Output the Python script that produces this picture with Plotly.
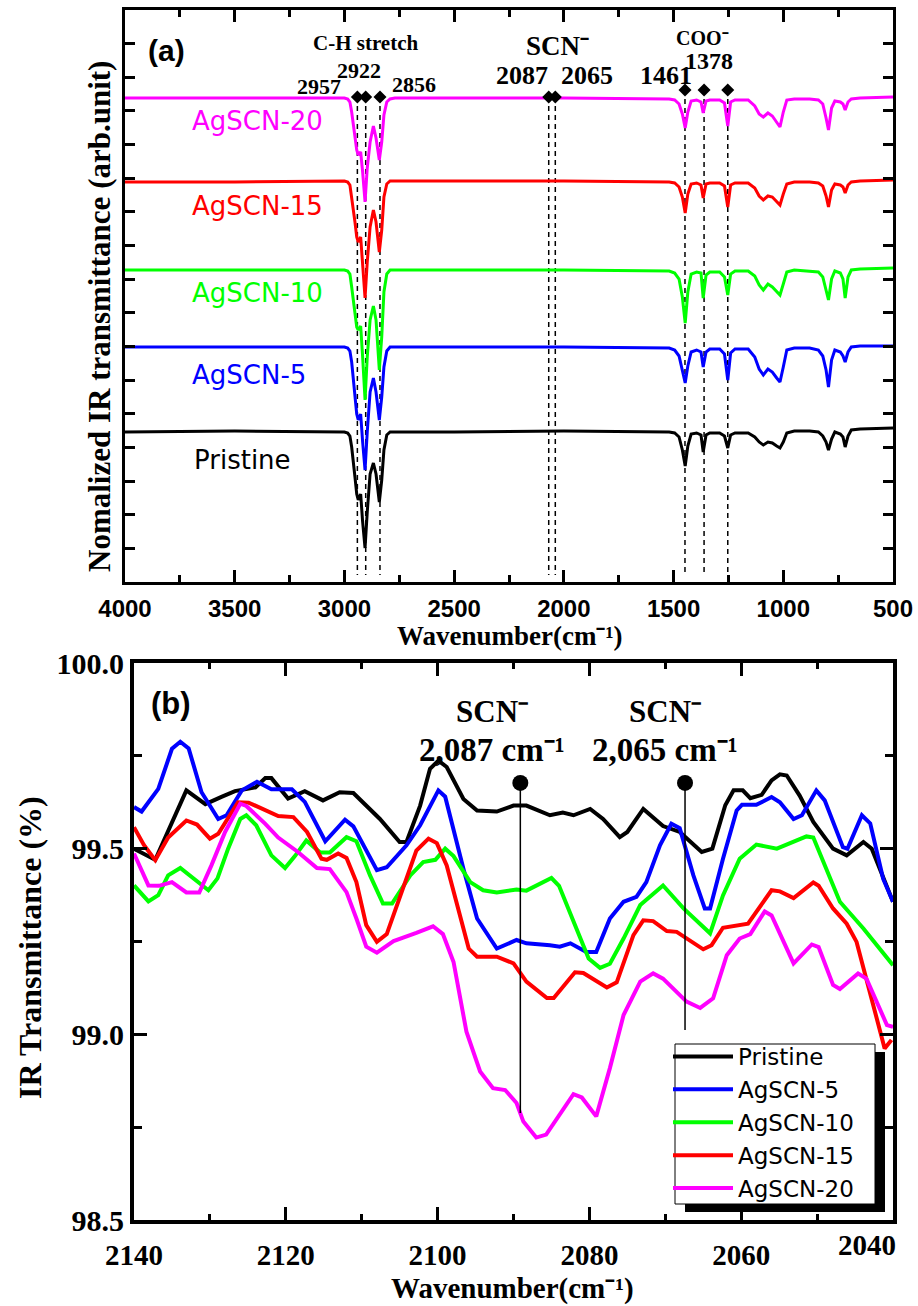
import plotly.graph_objects as go

SERIES = ["Pristine", "AgSCN-5", "AgSCN-10", "AgSCN-15", "AgSCN-20"]
COLORS = ["#000000", "#0000FF", "#00FF00", "#FF0000", "#FF00FF"]

# ---------------- panel (a): full spectra (arb. units, stacked) ----------------
WN_A = [4000, 3500, 3000, 2985, 2975, 2967, 2952, 2944, 2937, 2926, 2917, 2906, 2896,
        2883, 2868, 2856, 2841, 2830, 2820, 2807, 2792, 2770, 2500, 2000, 1520, 1495,
        1475, 1460, 1447, 1435, 1420, 1395, 1375, 1365, 1352, 1335, 1290, 1268, 1253,
        1240, 1220, 1160, 1130, 1110, 1091, 1070, 1050, 1030, 1015, 1000, 984, 950, 880,
        840, 820, 805, 794, 780, 765, 740, 728, 718, 705, 690, 650, 500]

A_PRISTINE = [150, 151, 150, 149, 146, 135, 105, 88, 82, 88, 60, 34, 70, 108, 119, 108, 80,
              102, 132, 147, 150, 150, 150, 151, 150, 149, 145, 132, 116, 136, 148, 149,
              147, 130, 147, 149, 149, 146, 134, 147, 149, 149, 145, 140, 137, 140, 139,
              136, 134, 140, 149, 151, 151, 150, 146, 140, 132, 143, 150, 148, 145, 135,
              146, 152, 153, 154]
A_AGSCN5 = [235, 235, 235, 234, 231, 220, 185, 168, 162, 168, 140, 112, 150, 190, 204, 190,
            162, 185, 215, 231, 235, 235, 235, 235, 234, 232, 226, 212, 199, 216, 230, 232,
            230, 215, 230, 233, 233, 228, 202, 229, 233, 233, 225, 213, 207, 213, 210, 204,
            200, 215, 232, 234, 234, 232, 226, 212, 195, 222, 232, 230, 226, 220, 230, 235,
            236, 236]
A_AGSCN10 = [312, 312, 312, 311, 308, 295, 268, 255, 252, 256, 225, 182, 225, 262, 276, 262,
             212, 245, 290, 308, 312, 312, 312, 312, 311, 309, 303, 285, 259, 290, 308, 310,
             309, 284, 307, 310, 310, 305, 287, 308, 311, 311, 306, 297, 292, 298, 295, 290,
             287, 298, 310, 312, 311, 310, 305, 292, 282, 303, 311, 309, 303, 284, 305, 312,
             313, 314]
A_AGSCN15 = [400, 400, 401, 400, 397, 385, 360, 345, 340, 345, 320, 284, 320, 355, 372, 360,
             330, 352, 385, 398, 401, 401, 401, 401, 400, 399, 395, 385, 369, 388, 398, 399,
             397, 384, 398, 399, 399, 396, 375, 397, 399, 399, 394, 386, 382, 386, 385, 380,
             377, 388, 398, 400, 400, 399, 396, 386, 375, 392, 398, 397, 395, 389, 397, 400,
             401, 402]
A_AGSCN20 = [484, 484, 484, 483, 480, 470, 447, 432, 427, 430, 410, 380, 414, 440, 456, 444,
             422, 440, 467, 480, 483, 484, 484, 484, 483, 482, 478, 468, 454, 470, 481, 482,
             480, 469, 481, 482, 482, 479, 456, 480, 482, 482, 476, 468, 465, 469, 466, 460,
             455, 470, 482, 483, 483, 482, 478, 464, 452, 474, 481, 480, 478, 472, 480, 483,
             484, 485]
A_SERIES = [A_PRISTINE, A_AGSCN5, A_AGSCN10, A_AGSCN15, A_AGSCN20]

# series labels in panel (a): (left wavenumber, level)
A_LABEL_WN = [3695, 3704, 3704, 3704, 3704]
A_LABEL_Y = [122, 207, 289, 376, 461]

# marker lines in panel (a)
CH_LINES = [2941, 2903, 2838]
SCN_LINES_A = [2069, 2039]
COO_LINES = [1448, 1361, 1253]
CH_TOP, SCN_TOP_A, COO_TOP, LINE_BOTTOM_A = 485, 485, 492, 7

A_PEAK_TEXT = [("2957", 3116, 496, 22), ("2922", 2934, 512, 22), ("2856", 2683, 498, 22),
               ("2087", 2193, 507, 26), ("2065", 1895, 507, 26), ("1461", 1535, 507, 26),
               ("1378", 1339, 521, 24)]

# ---------------- panel (b): SCN region ----------------
B_PRISTINE_WN = [2140.0, 2137.2, 2133.1, 2130.6, 2128.4, 2126.7, 2124.0, 2122.7, 2121.9, 2119.7,
                 2117.5, 2115.1, 2112.9, 2111.1, 2107.6, 2105.0, 2104.1, 2102.3, 2101.0, 2099.9,
                 2098.8, 2096.6, 2094.8, 2092.2, 2090.0, 2088.3, 2085.2, 2083.5, 2082.1, 2079.9,
                 2078.2, 2076.0, 2075.0, 2072.9, 2070.3, 2068.1, 2065.2, 2063.8, 2062.1, 2061.0,
                 2059.8, 2058.8, 2057.3, 2056.0, 2054.9, 2054.0, 2052.3, 2050.5, 2047.9, 2046.1,
                 2043.9, 2042.8, 2040.0]
B_PRISTINE = [99.50, 99.47, 99.657, 99.62, 99.64, 99.655, 99.665, 99.69, 99.69, 99.635,
              99.655, 99.63, 99.652, 99.65, 99.58, 99.518, 99.518, 99.616, 99.715, 99.737,
              99.72, 99.634, 99.603, 99.60, 99.616, 99.616, 99.59, 99.597, 99.59, 99.607,
              99.58, 99.531, 99.545, 99.607, 99.561, 99.545, 99.491, 99.50, 99.617, 99.657,
              99.657, 99.636, 99.645, 99.684, 99.70, 99.697, 99.643, 99.572, 99.50, 99.482,
              99.518, 99.50, 99.357]

B_AGSCN5_WN = [2140.0, 2139.0, 2136.8, 2135.0, 2133.9, 2132.8, 2131.1, 2128.9, 2127.8, 2125.8,
               2123.8, 2121.9, 2119.2, 2117.5, 2114.8, 2112.2, 2111.1, 2108.0, 2106.7, 2104.1,
               2102.3, 2099.9, 2099.0, 2096.6, 2094.8, 2092.2, 2089.6, 2088.3, 2085.2, 2083.9,
               2082.5, 2080.4, 2079.1, 2077.3, 2075.5, 2073.8, 2072.5, 2070.7, 2069.2, 2068.1,
               2066.3, 2064.8, 2064.1, 2062.4, 2060.6, 2059.9, 2058.0, 2056.0, 2054.9, 2053.1,
               2052.0, 2050.1, 2049.0, 2046.6, 2046.0, 2044.1, 2043.0, 2041.3, 2040.0]
B_AGSCN5 = [99.612, 99.60, 99.661, 99.769, 99.788, 99.77, 99.652, 99.58, 99.59, 99.657,
            99.68, 99.66, 99.66, 99.626, 99.52, 99.578, 99.56, 99.442, 99.45, 99.509,
            99.563, 99.657, 99.64, 99.446, 99.312, 99.231, 99.254, 99.245, 99.24, 99.236,
            99.245, 99.222, 99.222, 99.312, 99.357, 99.37, 99.41, 99.509, 99.567, 99.555,
            99.428, 99.339, 99.339, 99.473, 99.603, 99.618, 99.618, 99.639, 99.625, 99.58,
            99.59, 99.657, 99.63, 99.504, 99.50, 99.59, 99.568, 99.419, 99.357]

B_AGSCN10_WN = [2140.0, 2138.1, 2136.8, 2135.5, 2133.9, 2132.4, 2130.2, 2129.0, 2127.6, 2126.0,
                2125.2, 2123.9, 2121.9, 2120.1, 2118.8, 2117.3, 2115.5, 2114.2, 2112.0, 2110.7,
                2108.9, 2107.2, 2106.0, 2103.6, 2101.9, 2100.3, 2099.0, 2097.9, 2095.7, 2094.0,
                2092.2, 2089.6, 2088.3, 2085.0, 2084.0, 2081.7, 2080.1, 2078.6, 2077.3, 2075.5,
                2073.3, 2070.3, 2067.6, 2064.1, 2062.4, 2060.2, 2058.0, 2055.3, 2051.4, 2050.5,
                2047.0, 2043.9, 2040.0]
B_AGSCN10 = [99.401, 99.358, 99.375, 99.428, 99.448, 99.424, 99.388, 99.42, 99.50, 99.58,
             99.59, 99.563, 99.482, 99.448, 99.48, 99.522, 99.49, 99.49, 99.531, 99.52,
             99.428, 99.352, 99.352, 99.428, 99.464, 99.47, 99.50, 99.48, 99.41, 99.388,
             99.382, 99.39, 99.387, 99.421, 99.40, 99.284, 99.204, 99.179, 99.19, 99.258,
             99.348, 99.401, 99.339, 99.272, 99.374, 99.473, 99.511, 99.50, 99.533, 99.53,
             99.357, 99.285, 99.186]

B_AGSCN15_WN = [2140.0, 2138.7, 2137.2, 2135.5, 2133.1, 2131.7, 2130.0, 2128.9, 2126.3, 2124.9,
                2121.0, 2119.0, 2117.2, 2115.3, 2114.6, 2113.1, 2112.0, 2110.7, 2109.4, 2108.0,
                2106.7, 2104.5, 2102.8, 2101.2, 2100.1, 2098.8, 2097.0, 2095.9, 2094.8, 2092.2,
                2090.0, 2088.3, 2085.6, 2084.7, 2081.9, 2080.8, 2077.7, 2076.4, 2074.2, 2072.9,
                2071.6, 2069.8, 2068.5, 2065.0, 2063.9, 2062.4, 2059.1, 2056.0, 2054.9, 2053.1,
                2050.5, 2049.8, 2047.9, 2046.1, 2044.8, 2043.0, 2041.1, 2040.2]
B_AGSCN15 = [99.558, 99.51, 99.469, 99.53, 99.576, 99.565, 99.527, 99.54, 99.625, 99.624,
             99.588, 99.585, 99.545, 99.473, 99.47, 99.487, 99.475, 99.41, 99.294, 99.249,
             99.27, 99.401, 99.495, 99.527, 99.515, 99.455, 99.321, 99.231, 99.209, 99.209,
             99.191, 99.142, 99.098, 99.098, 99.167, 99.165, 99.126, 99.14, 99.267, 99.307,
             99.305, 99.278, 99.276, 99.229, 99.24, 99.287, 99.298, 99.388, 99.385, 99.367,
             99.409, 99.40, 99.339, 99.298, 99.249, 99.114, 98.962, 98.985]

B_AGSCN20_WN = [2140.0, 2138.1, 2136.7, 2135.0, 2133.1, 2131.4, 2129.8, 2128.0, 2126.0, 2125.2,
                2122.7, 2121.0, 2118.4, 2115.9, 2114.2, 2112.0, 2110.7, 2109.4, 2108.0, 2105.8,
                2102.8, 2100.6, 2099.3, 2097.9, 2096.2, 2094.4, 2092.7, 2091.1, 2089.6, 2088.7,
                2087.0, 2085.7, 2082.1, 2081.0, 2079.1, 2077.3, 2075.5, 2073.3, 2071.6, 2070.3,
                2067.2, 2065.4, 2063.7, 2061.9, 2060.2, 2058.8, 2056.9, 2056.0, 2053.1, 2050.7,
                2049.8, 2047.9, 2047.0, 2044.6, 2043.5, 2040.8, 2040.0]
B_AGSCN20 = [99.487, 99.401, 99.40, 99.41, 99.382, 99.382, 99.455, 99.545, 99.621, 99.615,
             99.567, 99.53, 99.491, 99.448, 99.445, 99.383, 99.312, 99.236, 99.22, 99.251,
             99.273, 99.291, 99.27, 99.195, 99.007, 98.90, 98.855, 98.85, 98.815, 98.765,
             98.722, 98.73, 98.839, 98.83, 98.779, 98.909, 99.052, 99.142, 99.164, 99.15,
             99.088, 99.071, 99.097, 99.213, 99.258, 99.27, 99.331, 99.32, 99.191, 99.242,
             99.235, 99.133, 99.122, 99.164, 99.15, 99.025, 99.02]

B_WN = [B_PRISTINE_WN, B_AGSCN5_WN, B_AGSCN10_WN, B_AGSCN15_WN, B_AGSCN20_WN]
B_SERIES = [B_PRISTINE, B_AGSCN5, B_AGSCN10, B_AGSCN15, B_AGSCN20]

# SCN markers in panel (b)
SCN_MARK_WN = [2089.1, 2067.4]
SCN_MARK_TOP = 99.677
SCN_MARK_BOTTOM = [98.788, 99.012]
SCN_TEXT = ["2,087 cm\u207b\u00b9", "2,065 cm\u207b\u00b9"]
SCN_TEXT_WN = [2092.8, 2070.0]

B_XTICKS = [2140, 2120, 2100, 2080, 2060]
B_YTICKS = [98.5, 99.0, 99.5, 100.0]

SERIF = "Liberation Serif, Times New Roman, serif"
SANS = "Liberation Sans, Arial, sans-serif"
WIDE = "DejaVu Sans, Verdana, sans-serif"

fig = go.Figure()

# panel (a) traces
for name, col, ys in zip(SERIES, COLORS, A_SERIES):
    fig.add_trace(go.Scatter(x=WN_A, y=ys, mode="lines", line=dict(color=col, width=3),
                             showlegend=False, xaxis="x", yaxis="y", hoverinfo="skip"))

# marker diamonds (a)
DIA_WN = CH_LINES + SCN_LINES_A + COO_LINES
DIA_Y = [CH_TOP] * len(CH_LINES) + [SCN_TOP_A] * len(SCN_LINES_A) + [COO_TOP] * len(COO_LINES)
fig.add_trace(go.Scatter(x=DIA_WN, y=DIA_Y, mode="markers",
                         marker=dict(symbol="diamond", size=10, color="black"),
                         showlegend=False, xaxis="x", yaxis="y", hoverinfo="skip"))

# panel (b) traces
for name, col, xs, ys in zip(SERIES, COLORS, B_WN, B_SERIES):
    fig.add_trace(go.Scatter(x=xs, y=ys, mode="lines", name=name,
                             line=dict(color=col, width=4),
                             xaxis="x2", yaxis="y2"))

fig.add_trace(go.Scatter(x=SCN_MARK_WN, y=[SCN_MARK_TOP] * 2, mode="markers",
                         marker=dict(symbol="circle", size=16, color="black"),
                         showlegend=False, xaxis="x2", yaxis="y2", hoverinfo="skip"))

shapes = []
for wn in CH_LINES + SCN_LINES_A:
    shapes.append(dict(type="line", xref="x", yref="y", x0=wn, x1=wn, y0=CH_TOP, y1=LINE_BOTTOM_A,
                       line=dict(color="black", width=1.5, dash="5px,4px"), layer="below"))
for wn in COO_LINES:
    shapes.append(dict(type="line", xref="x", yref="y", x0=wn, x1=wn, y0=COO_TOP, y1=LINE_BOTTOM_A,
                       line=dict(color="black", width=1.5, dash="5px,4px"), layer="below"))
for wn, yb in zip(SCN_MARK_WN, SCN_MARK_BOTTOM):
    shapes.append(dict(type="line", xref="x2", yref="y2", x0=wn, x1=wn, y0=SCN_MARK_TOP, y1=yb,
                       line=dict(color="black", width=1.5)))

W, H = 918, 1306
# legend frame (px) with its drop shadow
LEG_L, LEG_T, LEG_R, LEG_B = 675, 1044, 875, 1204
shapes.append(dict(type="rect", xref="paper", yref="paper",
                   x0=(LEG_L + 10) / W, x1=(LEG_R + 10) / W,
                   y0=1 - (LEG_B + 8) / H, y1=1 - (LEG_T + 8) / H,
                   fillcolor="black", line=dict(width=0), layer="above"))
shapes.append(dict(type="rect", xref="paper", yref="paper",
                   x0=LEG_L / W, x1=LEG_R / W, y0=1 - LEG_B / H, y1=1 - LEG_T / H,
                   fillcolor="white", line=dict(width=1, color="black"), layer="above"))

ann = []
def A(text, x, y, size, family=SERIF, color="black", xref="x", yref="y", xanchor="center",
      yanchor="middle", angle=0, bold=True):
    ann.append(dict(text=text, x=x, y=y, xref=xref, yref=yref, xanchor=xanchor, yanchor=yanchor,
                    textangle=angle, showarrow=False,
                    font=dict(family=family, size=size, color=color,
                              weight="bold" if bold else "normal")))

A("(a)", 3809, 532, 30, family=SANS)
A("C-H stretch", 2902, 539, 21)
A("SCN\u207b", 2031, 536, 27)
A("COO\u207b", 1366, 544, 20)
for t, x, y, s in A_PEAK_TEXT:
    A(t, x, y, s)
for name, col, lx, ly in zip(SERIES, COLORS, A_LABEL_WN, A_LABEL_Y):
    A(name, lx, ly, 26, family=WIDE, color=col, xanchor="left", bold=False)

A("(b)", 2135.1, 99.892, 31, family=SANS, xref="x2", yref="y2")
for t, x in zip(SCN_TEXT, SCN_TEXT_WN):
    A("SCN\u207b", x, 99.870, 31, xref="x2", yref="y2")
    A(t, x, 99.766, 33, xref="x2", yref="y2")
A("2040", 2040, 1 - 1245 / H, 29, xref="x2", yref="paper")
ann[-1]["xshift"] = -26

# axis titles
A("Nomalized IR transmittance (arb.unit)", 99 / W, 1 - 317 / H, 31, xref="paper", yref="paper", angle=-90)
A("Wavenumber(cm\u207b\u00b9)", 510 / W, 1 - 636 / H, 27, xref="paper", yref="paper")
A("Wavenumber(cm\u207b\u00b9)", 512 / W, 1 - 1288 / H, 29, xref="paper", yref="paper")
A("IR Transmittance (%)", 30 / W, 1 - 948 / H, 32, xref="paper", yref="paper", angle=-90)

axis_common = dict(showgrid=False, zeroline=False, showline=True, linecolor="black",
                   mirror="allticks", ticks="inside", tickcolor="black", automargin=False)

fig.update_layout(
    width=W, height=H, autosize=False,
    margin=dict(l=0, r=0, t=0, b=0, pad=0),
    paper_bgcolor="white", plot_bgcolor="white",
    xaxis=dict(domain=[125 / W, 893 / W], range=[4000, 500], tickmode="linear", tick0=500, dtick=500,
               ticklen=12, tickwidth=3, linewidth=3, anchor="y", ticklabelstandoff=3,
               minor=dict(ticks="inside", dtick=250, tick0=500, ticklen=7, tickwidth=3, tickcolor="black"),
               tickfont=dict(family=SANS, size=24, color="black", weight="bold"),
               **axis_common),
    yaxis=dict(domain=[1 - 582 / H, 1 - 10 / H], range=[0, 572], tickmode="linear", tick0=0,
               dtick=572 / 17, ticklen=10, tickwidth=3, linewidth=3, showticklabels=False,
               anchor="x", **axis_common),
    xaxis2=dict(domain=[134 / W, 893 / W], range=[2140, 2040], tickmode="array", tickvals=B_XTICKS,
                ticktext=[str(v) for v in B_XTICKS], ticklen=13, tickwidth=3, linewidth=4, anchor="y2",
                ticklabelstandoff=6,
                minor=dict(ticks="inside", tickvals=[2130, 2110, 2090, 2070, 2050, 2040], ticklen=6,
                           tickwidth=3, tickcolor="black"),
                tickfont=dict(family=SERIF, size=29, color="black", weight="bold"),
                **axis_common),
    yaxis2=dict(domain=[1 - 1220 / H, 1 - 663 / H], range=[98.5, 100.0], tickmode="array",
                tickvals=B_YTICKS, ticktext=["%.1f" % v for v in B_YTICKS], ticklen=13, tickwidth=3,
                linewidth=4, anchor="x2",
                minor=dict(ticks="inside", tickvals=[98.75, 99.25, 99.75], ticklen=8, tickwidth=3,
                           tickcolor="black"),
                tickfont=dict(family=SERIF, size=30, color="black", weight="bold"),
                **axis_common),
    legend=dict(x=668 / W, y=1 - 1035 / H, xanchor="left", yanchor="top",
                bgcolor="rgba(0,0,0,0)", borderwidth=0,
                font=dict(family=WIDE, size=23, color="black"), itemwidth=60,
                tracegroupgap=0),
    shapes=shapes, annotations=ann, showlegend=True,
)

fig.write_html("out.html", config={"displayModeBar": False},
               post_script="document.body.style.margin='0';")
